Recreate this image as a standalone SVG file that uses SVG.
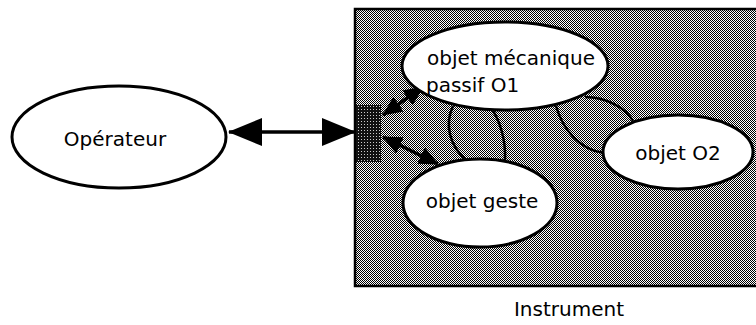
<svg xmlns="http://www.w3.org/2000/svg" width="756" height="325" viewBox="0 0 756 325">
<style>
.lbl{font-family:"DejaVu Sans",Verdana,sans-serif;font-size:20px;fill:#000}
.node{fill:#fff;stroke:#000;stroke-width:3}
.link{fill:none;stroke:#000;stroke-width:2.5}
.arr{fill:none;stroke:#000;stroke-width:3.5}
</style>
<defs>
<pattern id="dither" width="2" height="2" patternUnits="userSpaceOnUse">
<rect width="2" height="2" fill="#fff"/>
<rect x="0" y="0" width="1" height="1" fill="#000"/>
<rect x="1" y="1" width="1" height="1" fill="#000"/>
</pattern>
<pattern id="dark" width="3" height="3" patternUnits="userSpaceOnUse">
<rect width="3" height="3" fill="#111"/>
<rect x="1" y="1" width="1" height="1" fill="#ccc"/>
</pattern>
<marker id="bigHead" markerUnits="userSpaceOnUse" viewBox="0 0 34 28" markerWidth="34" markerHeight="28" refX="33" refY="14" orient="auto-start-reverse">
<path d="M0,0 L34,14 L0,28 z" fill="#000"/>
</marker>
<marker id="smallHead" markerUnits="userSpaceOnUse" viewBox="0 0 20 18" markerWidth="20" markerHeight="18" refX="19" refY="9" orient="auto-start-reverse">
<path d="M0,0 L20,9 L0,18 z" fill="#000"/>
</marker>
</defs>
<rect width="756" height="325" fill="#fff"/>
<g id="instrument">
<rect x="355" y="9" width="410" height="277" fill="url(#dither)" stroke="#000" stroke-width="2.5"/>
<text class="lbl" x="569" y="316" text-anchor="middle">Instrument</text>
</g>
<g id="operateur">
<ellipse class="node" cx="119" cy="137" rx="107" ry="51"/>
<text class="lbl" x="115" y="146" text-anchor="middle">Opérateur</text>
</g>
<g id="interface">
<rect x="356" y="105" width="25" height="57" fill="url(#dark)"/>
</g>
<g id="connectors">
<line class="arr" x1="229" y1="132" x2="355" y2="132" marker-start="url(#bigHead)" marker-end="url(#bigHead)"/>
<line class="arr" x1="383" y1="115" x2="423" y2="87" marker-start="url(#smallHead)" marker-end="url(#smallHead)"/>
<line class="arr" x1="383" y1="137" x2="438" y2="164" marker-start="url(#smallHead)" marker-end="url(#smallHead)"/>
<path class="link" d="M453,106 C444,125 450,146 466,160"/>
<path class="link" d="M490,106 C500,120 506,140 505,160"/>
<path class="link" d="M556,106 C563,130 580,150 604,153"/>
<path class="link" d="M585,97 C606,97 626,108 633,121"/>
</g>
<g id="objet-o1">
<ellipse class="node" cx="505" cy="66" rx="103" ry="44"/>
<text class="lbl" x="427" y="65">objet mécanique</text>
<text class="lbl" x="426" y="92">passif O1</text>
</g>
<g id="objet-o2">
<ellipse class="node" cx="678" cy="152" rx="75" ry="37"/>
<text class="lbl" x="678" y="160" text-anchor="middle">objet O2</text>
</g>
<g id="objet-geste">
<ellipse class="node" cx="480" cy="203" rx="77" ry="44"/>
<text class="lbl" x="482" y="208" text-anchor="middle">objet geste</text>
</g>
</svg>
